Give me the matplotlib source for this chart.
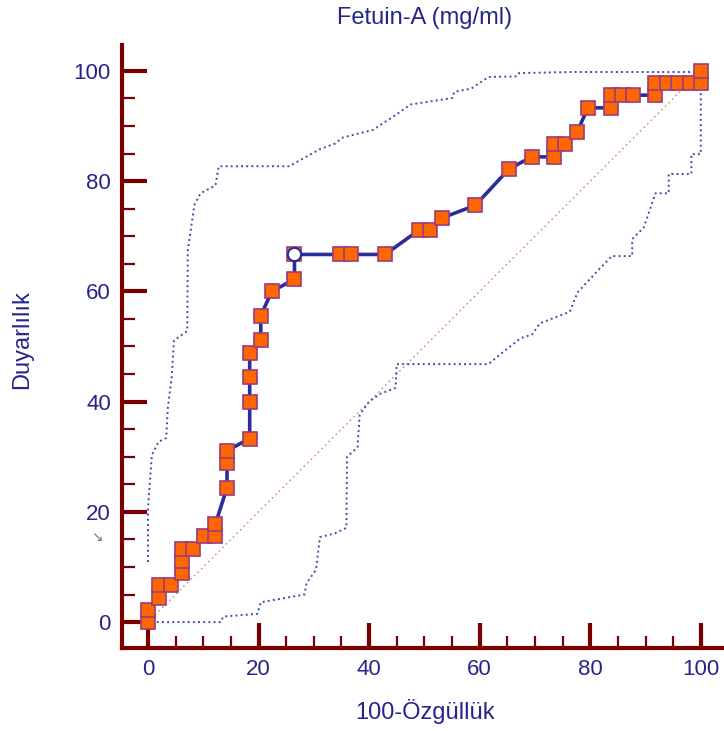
import matplotlib
matplotlib.use("Agg")
import matplotlib.pyplot as plt

plt.rcParams['font.family'] = ['Liberation Sans', 'DejaVu Sans']

# ROC curve points (100-Specificity, Sensitivity)
roc_x = [0, 0, 2.0, 2.0, 4.1, 6.1, 6.1, 6.1, 8.2, 10.2, 12.2, 12.2, 14.3, 14.3, 14.3,
         18.4, 18.4, 18.4, 18.4, 20.4, 20.4, 22.4, 26.5, 26.5, 34.7, 36.7, 42.9,
         49.0, 51.0, 53.1, 59.2, 65.3, 69.4, 73.5, 73.5, 75.5, 77.6, 79.6, 83.7,
         83.7, 85.7, 87.8, 91.8, 91.8, 93.9, 95.9, 98.0, 100, 100]
roc_y = [0, 2.2, 4.4, 6.7, 6.7, 8.9, 11.1, 13.3, 13.3, 15.6, 15.6, 17.8, 24.4, 28.9, 31.1,
         33.3, 40.0, 44.4, 48.9, 51.1, 55.6, 60.0, 62.2, 66.7, 66.7, 66.7, 66.7,
         71.1, 71.1, 73.3, 75.6, 82.2, 84.4, 84.4, 86.7, 86.7, 88.9, 93.3, 93.3,
         95.6, 95.6, 95.6, 95.6, 97.8, 97.8, 97.8, 97.8, 97.8, 100]

# optimal cut-off point
cut_x = [26.5]
cut_y = [66.7]

# upper confidence band
up_x = [0, 0, 0.7, 1.9, 3.3, 3.6, 4.3, 4.7, 7.1, 7.2, 8.4, 9.5, 12.2, 12.8, 25.6, 27.3,
        31.1, 33.8, 35.2, 40.7, 44.8, 47.5, 55.1, 55.4, 58.5, 61.6, 66.7, 67.1, 76.7, 100]
up_y = [10.9, 20.6, 30.3, 32.7, 33.4, 39.0, 44.5, 51.1, 52.8, 67.4, 75.7, 77.8, 79.2, 82.7,
        82.7, 83.7, 85.8, 86.8, 87.9, 89.3, 92.0, 93.9, 95.1, 96.2, 96.8, 98.9, 99.0, 99.6,
        99.8, 99.8]

# lower confidence band
lo_x = [1.6, 13.2, 13.6, 19.8, 20.4, 28.3, 28.7, 30.4, 31.1, 33.8, 35.9, 36.0, 37.9, 38.3,
        40.0, 42.0, 44.8, 45.0, 61.6, 63.0, 67.4, 69.5, 70.9, 76.3, 77.7, 81.5, 83.9, 87.6,
        87.6, 89.7, 91.8, 94.2, 94.2, 98.3, 98.3, 100, 100]
lo_y = [0, 0, 1.0, 1.5, 3.6, 5.0, 7.1, 9.5, 15.4, 16.1, 17.1, 30.0, 31.7, 37.6, 40.0, 41.4,
        42.5, 46.8, 46.8, 48.0, 51.5, 52.2, 54.2, 56.3, 59.8, 63.9, 66.4, 66.4, 69.5, 71.6,
        77.8, 77.8, 81.3, 81.3, 84.9, 84.9, 96.5]

axis_col = '#7a0000'
text_col = '#25258c'
W, H = 724, 731

fig = plt.figure(figsize=(W / 100, H / 100), dpi=100)
ax = fig.add_axes([122 / W, 1 - 648 / H, 602 / W, 603 / H])

# chance diagonal
ax.plot([0, 100], [0, 100], color='#c86a6a', lw=0.8, ls=(0, (1.5, 3)), zorder=1)

# confidence bands
ax.plot(up_x, up_y, color='#4848a8', lw=1.4, ls=':', zorder=2)
ax.plot(lo_x, lo_y, color='#4848a8', lw=1.4, ls=':', zorder=2)

# ROC curve
ax.plot(roc_x, roc_y, color='#2c2c9c', lw=2.6, zorder=3)
ax.plot(roc_x, roc_y, ls='none', marker='s', markersize=10, markerfacecolor='#ff6600',
        markeredgecolor='#9a3c7c', markeredgewidth=1.2, zorder=4)
ax.plot(cut_x, cut_y, ls='none', marker='o', markersize=9.5, markerfacecolor='white',
        markeredgecolor='#2c2c9c', markeredgewidth=1.5, zorder=5)

ax.set_xlim(-4.7, 104.2)
ax.set_ylim(-4.7, 104.7)

for s in ['top', 'right']:
    ax.spines[s].set_visible(False)
for s in ['left', 'bottom']:
    ax.spines[s].set_color(axis_col)
    ax.spines[s].set_linewidth(3)

ax.set_xticks([0, 20, 40, 60, 80, 100])
ax.set_yticks([0, 20, 40, 60, 80, 100])
ax.set_xticks([v for v in range(0, 101, 5) if v % 20], minor=True)
ax.set_yticks([v for v in range(0, 101, 5) if v % 20], minor=True)

ax.tick_params(which='major', direction='in', length=18, width=3, color=axis_col,
               labelcolor=text_col, labelsize=16, pad=8)
ax.tick_params(which='minor', direction='in', length=9, width=1.6, color=axis_col)

fig.text(425 / W, 1 - 18 / H, 'Fetuin-A (mg/ml)', ha='center', va='center',
         fontsize=17, color=text_col)
fig.text(425 / W, 1 - 712 / H, '100-Özgüllük', ha='center', va='center',
         fontsize=17, color=text_col)
fig.text(22 / W, 1 - 340 / H, 'Duyarlılık', ha='center', va='center', rotation=90,
         fontsize=17, color=text_col)
fig.text(97 / W, 1 - 537 / H, '↘', ha='center', va='center', fontsize=10,
         color='#777777', family=['DejaVu Sans'])

fig.savefig('out.png', dpi=100)
